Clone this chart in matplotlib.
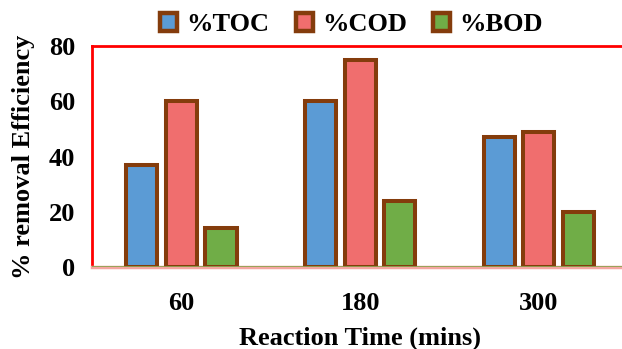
import numpy as np
import matplotlib.pyplot as plt

times = ['60', '180', '300']
toc = [37, 60, 47]
cod = [60, 75, 49]
bod = [14, 24, 20]
series = ['%TOC', '%COD', '%BOD']
colors = ['#5B9BD5', '#F06E6E', '#70AD47']

plt.rcParams['font.family'] = 'Liberation Serif'
plt.rcParams['font.weight'] = 'bold'

fig = plt.figure(figsize=(6.22, 3.49), dpi=100)
ax = fig.add_axes([0.148, 0.235, 0.862, 0.633])

x = np.arange(len(times))
step = 0.2215
w = 0.174
for i, vals in enumerate([toc, cod, bod]):
    ax.bar(x + (i - 1) * step, vals, w, color=colors[i], edgecolor='#843C0C',
           linewidth=2.9, label=series[i], zorder=3)

ax.set_xlim(-0.5, 2.5)
ax.set_ylim(0, 80)
ax.set_yticks([0, 20, 40, 60, 80])
ax.set_xticks(x)
ax.set_xticklabels(times)
ax.tick_params(length=0, labelsize=19)
ax.tick_params(axis='x', pad=18)
ax.tick_params(axis='y', pad=12)

for s in ['top', 'left', 'right']:
    ax.spines[s].set_color('#FF0000')
    ax.spines[s].set_linewidth(2)
ax.spines['bottom'].set_color('#F4A6A0')
ax.spines['bottom'].set_linewidth(2.5)
ax.axhline(0, color='#8FA352', linewidth=1.3, zorder=4)

ax.set_xlabel('Reaction Time (mins)', fontsize=19, fontweight='bold', labelpad=8)
ax.set_ylabel('% removal Efficiency', fontsize=19, fontweight='bold', labelpad=10)

leg = fig.legend(loc='upper center', bbox_to_anchor=(0.565, 1.03), ncol=3, frameon=False,
                 fontsize=19, handlelength=0.65, handleheight=0.65, handletextpad=0.35,
                 columnspacing=1.0)
for h in leg.legend_handles:
    h.set_linewidth(3.2)

fig.savefig('out.png', dpi=100)
